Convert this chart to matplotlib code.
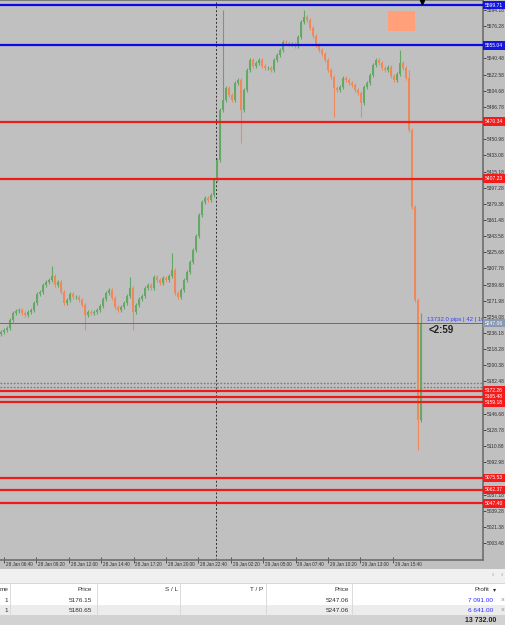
import matplotlib
matplotlib.use("Agg")
import matplotlib.pyplot as plt
from matplotlib.patches import Rectangle

# ---- data ----
first_open = 5235.0
closes = [
    5237.3, 5239.5, 5241.7, 5250.6, 5258.4, 5260.6, 5261.7, 5258.4, 5256.1, 5259.5,
    5261.7, 5269.5, 5279.4, 5281.6, 5289.4, 5292.7, 5294.9, 5299.4, 5289.4, 5292.7,
    5281.6, 5269.5, 5272.8, 5279.4, 5276.1, 5276.1, 5272.8, 5267.2, 5256.1, 5259.5,
    5258.4, 5259.5, 5261.7, 5266.1, 5273.9, 5280.5, 5283.9, 5275.0, 5265.0, 5261.7,
    5265.0, 5269.5, 5277.2, 5286.1, 5259.5, 5267.2, 5273.9, 5277.2, 5286.1, 5289.4,
    5286.1, 5298.3, 5294.9, 5291.6, 5297.2, 5294.9, 5299.4, 5306.0, 5280.5, 5276.1,
    5283.9, 5294.9, 5303.8, 5314.9, 5328.2, 5343.7, 5367.0, 5381.4, 5385.8, 5383.6,
    5389.1, 5405.8, 5428.0, 5483.3, 5494.4, 5507.7, 5500.0, 5494.4, 5513.3, 5516.6,
    5483.3, 5505.5, 5527.7, 5538.8, 5532.1, 5535.4, 5538.8, 5532.1, 5529.9, 5529.9,
    5527.7, 5538.8, 5544.3, 5549.8, 5558.7, 5557.6, 5556.5, 5556.5, 5554.3, 5564.3,
    5580.9, 5586.4, 5583.1, 5574.2, 5565.4, 5555.4, 5549.8, 5545.4, 5538.8, 5527.7,
    5520.0, 5507.7, 5505.5, 5508.8, 5518.8, 5516.6, 5513.3, 5511.0, 5505.5, 5502.2,
    5491.1, 5508.8, 5513.3, 5522.1, 5533.2, 5538.8, 5535.4, 5529.9, 5527.7, 5531.0,
    5521.0, 5516.6, 5523.2, 5535.4, 5529.9, 5518.8, 5461.2, 5375.8, 5272.8, 5139.8,
    5247.06,
]
# long wicks visible on the chart (bar index -> price)
spike_highs = {17: 5310.5, 43: 5298.3, 57: 5324.9, 74: 5594.2, 101: 5594.2,
               133: 5549.8, 136: 5527.7, 140: 5258.4}
spike_lows = {28: 5239.5, 44: 5239.5, 80: 5446.8, 111: 5475.6, 120: 5475.6,
              139: 5106.5}

blue_levels = [5599.71, 5555.04]
red_levels = [5470.34, 5407.23, 5172.26, 5165.48, 5159.18, 5075.53, 5062.37, 5047.40]
order_prices = [5176.15, 5180.65]
current_price = 5247.06

time_labels = ["28 Jan 06:40", "28 Jan 09:20", "28 Jan 12:00", "28 Jan 14:40",
               "28 Jan 17:20", "28 Jan 20:00", "28 Jan 22:40", "29 Jan 02:20",
               "29 Jan 05:00", "29 Jan 07:40", "29 Jan 10:20", "29 Jan 13:00",
               "29 Jan 15:40"]
price_ticks = [round(5003.48 + 17.9 * k, 2) for k in range(34)]

table_header = ["me", "Price", "S / L", "T / P", "Price", "Profit"]
table_rows = [["1", "5176.15", "", "", "5247.06", "7 091.00"],
              ["1", "5180.65", "", "", "5247.06", "6 641.00"]]
total_profit = "13 732.00"

# ---- styling ----
plt.rcParams["font.family"] = ["Liberation Sans", "DejaVu Sans"]
BG = "#c0c0c0"
UP = "#63a863"
DN = "#f0885a"

W, H = 506, 625
fig = plt.figure(figsize=(W / 100, H / 100), dpi=100, facecolor=BG)
ax = fig.add_axes([0, 65 / H, 483 / W, 560 / H])
ax.set_facecolor(BG)
ax.set_xlim(-1 / 3, 482 / 3)
ax.set_ylim(4984.6, 5605.26)

# candles
opens = [first_open] + closes[:-1]
for i, (o, c) in enumerate(zip(opens, closes)):
    col = UP if c >= o else DN
    hi = spike_highs.get(i, max(o, c) + 2.5)
    lo = spike_lows.get(i, min(o, c) - 2.5)
    ax.vlines(i, lo, hi, color=col, lw=0.8, zorder=3)
    ax.bar(i, abs(c - o) + 0.8, bottom=min(o, c) - 0.4, width=0.62, color=col,
           linewidth=0, zorder=3)

ytr = ax.get_yaxis_transform()
lab_kw = dict(transform=ytr, ha="left", va="center", fontsize=3.6, color="white",
              clip_on=False, zorder=10)

for p in blue_levels:
    ax.axhline(p, color="#0a0ae6", lw=1.6, zorder=4)
    ax.text(1.004, p, f"{p:.2f}", bbox=dict(boxstyle="square,pad=0.35", fc="#1414e0",
                                            ec="none"), **lab_kw)
for p in red_levels:
    ax.axhline(p, color="#f01a1a", lw=1.6, zorder=4)
    ax.text(1.004, p, f"{p:.2f}", bbox=dict(boxstyle="square,pad=0.35", fc="#f21c1c",
                                            ec="none"), **lab_kw)
for p in order_prices:
    ax.axhline(p, color="#7a7a7a", lw=1.0, ls=(0, (1.2, 1.2)), zorder=2)

ax.axhline(current_price, color="#b84a4a", lw=0.7, zorder=4)
ax.text(1.004, current_price, f"{current_price:.2f}",
        bbox=dict(boxstyle="square,pad=0.35", fc="#8b98b2", ec="none"), **lab_kw)

# separator at day change + info texts
ax.axvline(71.7, color="#303030", lw=0.7, ls=(0, (2, 2)), zorder=2)
ax.text(142.0, current_price + 1.5, "13732.0 pips | 42 | 102", fontsize=4.3,
        color="#3344ff", va="bottom", ha="left", clip_on=True, zorder=6)
ax.text(142.5, current_price - 7, "<2:59", fontsize=7, fontweight="bold",
        color="#202020", va="center", ha="left", zorder=6)
ax.add_patch(Rectangle((129, 5570.9), 9, 22.2, fc="#ffa07a", ec="none", zorder=5))
ax.plot([140.3], [5603.5], marker="v", ms=3, color="black", clip_on=False, zorder=8)

# axes frame and ticks
ax.spines["left"].set_visible(False)
for s in ["right", "top", "bottom"]:
    ax.spines[s].set_color("#6e6e6e")
    ax.spines[s].set_linewidth(1.2)
ax.yaxis.tick_right()
ax.set_yticks(price_ticks)
# tick labels hidden under the level boxes are not shown in the terminal
covered = blue_levels + red_levels + [current_price]
ax.set_yticklabels(["" if any(abs(t - p) < 4.5 for p in covered) else f"{t:.2f}"
                    for t in price_ticks])
ax.tick_params(axis="y", direction="out", length=2, width=0.6, pad=1,
               labelsize=3.5, colors="#303030")
tick_x = [1.0 + 10.8 * k for k in range(len(time_labels))]
ax.set_xticks(tick_x)
ax.set_xticklabels([])
ax.tick_params(axis="x", direction="inout", length=5, width=0.6, colors="#404040")
xtr = ax.get_xaxis_transform()
for x, lab in zip(tick_x, time_labels):
    ax.text(x + 0.6, -4 / 560, lab, transform=xtr, fontsize=3.3, color="#303030",
            ha="left", va="center", clip_on=False)

# ---- terminal table (figure pixel coordinates) ----
ov = fig.add_axes([0, 0, 1, 1], zorder=-1)
ov.set_xlim(0, W)
ov.set_ylim(H, 0)
ov.axis("off")
bands = [(569, 583, "#f0f0f0"), (583, 595, "#ffffff"), (595, 605, "#ffffff"),
         (605, 615, "#ececec"), (615, 625, "#d2d2d2")]
for y0, y1, c in bands:
    ov.add_patch(Rectangle((0, y0), W, y1 - y0, fc=c, ec="none"))
ov.plot([0, W], [583, 583], color="#d0d0d0", lw=0.6)
for x in [10, 97, 180, 266, 352]:
    ov.plot([x, x], [583, 615], color="#d6d6d6", lw=0.6)
ov.text(493, 576, "‹", fontsize=5, color="#a0a0a0", ha="center", va="center")
ov.text(502, 576, "›", fontsize=5, color="#a0a0a0", ha="center", va="center")

col_right = [8, 92, 178, 263, 349, 489]
for x, h in zip(col_right, table_header):
    ov.text(x, 589.5, h, fontsize=4.6, color="#303030", ha="right", va="center")
ov.text(495, 589.5, "▾", fontsize=4.5, color="#303030", ha="center", va="center")
for y, row in zip([600, 610], table_rows):
    for j, (x, v) in enumerate(zip(col_right, row)):
        if not v:
            continue
        xx = 493 if j == 5 else x
        ov.text(xx, y, v, fontsize=4.6, ha="right", va="center",
                color="#2b2bff" if j == 5 else "#303030")
    ov.text(502, y, "×", fontsize=4.8, color="#909090", ha="center", va="center")
ov.text(496, 620, total_profit, fontsize=5, fontweight="bold", color="#202020",
        ha="right", va="center")

fig.savefig("out.png", dpi=100, facecolor=BG)
